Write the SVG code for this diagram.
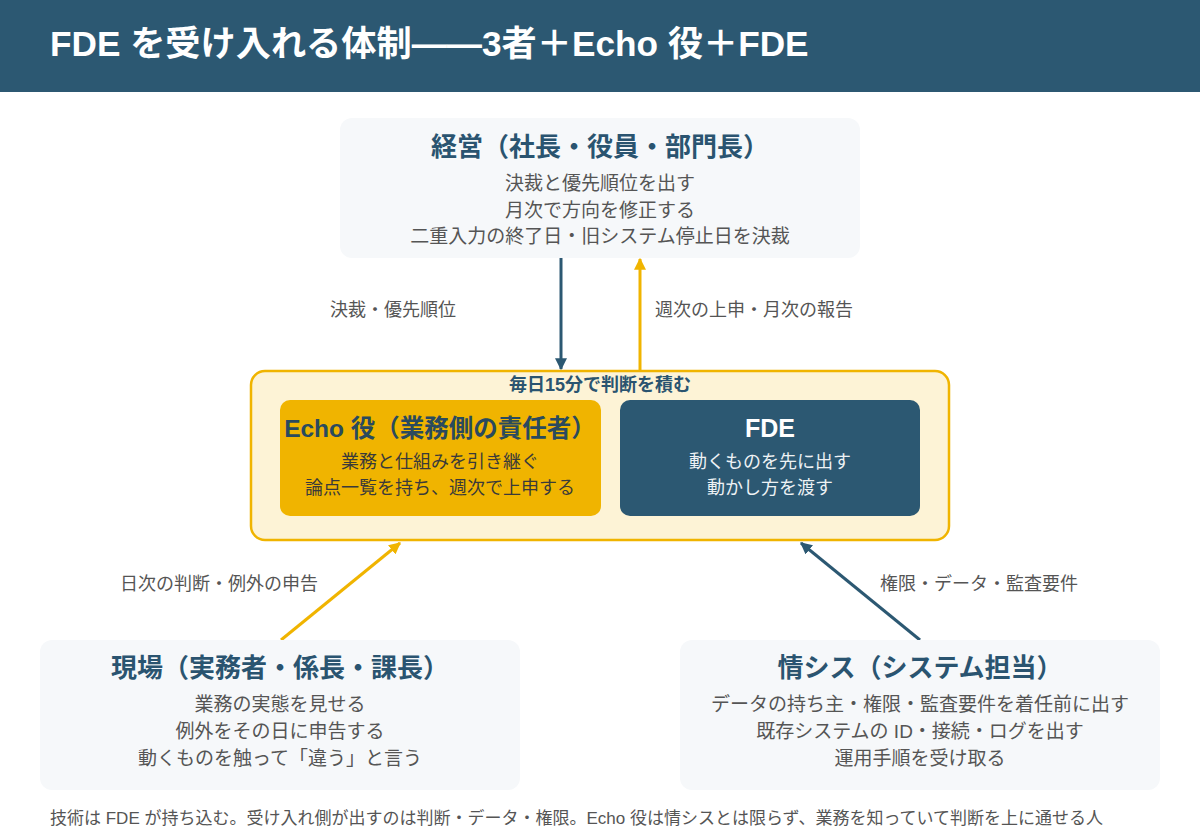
<svg xmlns="http://www.w3.org/2000/svg" width="1200" height="840" viewBox="0 0 1200 840">
<defs>
<style>
text{font-family:"Liberation Sans","Noto Sans CJK JP",sans-serif}
.node{fill:#f6f8fa}
.title{font-size:26px;font-weight:bold;fill:#2a5470;text-anchor:middle}
.line{font-size:19px;fill:#555;text-anchor:middle}
.inner{font-size:18px;text-anchor:middle}
.lbl{font-size:18px;fill:#555;text-anchor:middle}
.blue{stroke:#2c5872;stroke-width:3;fill:none}
.yel{stroke:#f0b400;stroke-width:3;fill:none}
</style>
<marker id="ab" viewBox="0 0 10 10" refX="9" refY="5" markerWidth="4" markerHeight="4" orient="auto" markerUnits="strokeWidth"><path d="M0,0L10,5L0,10z" fill="#2c5872"/></marker>
<marker id="ay" viewBox="0 0 10 10" refX="9" refY="5" markerWidth="4" markerHeight="4" orient="auto" markerUnits="strokeWidth"><path d="M0,0L10,5L0,10z" fill="#f0b400"/></marker>
</defs>
<rect width="1200" height="840" fill="#fff"/>
<rect x="0" y="0" width="1200" height="92" fill="#2c5872"/>
<text x="50" y="56" font-size="35.2" font-weight="bold" fill="#fff">FDE を受け入れる体制——3者＋Echo 役＋FDE</text>

<g id="connectors">
<line class="blue" x1="561" y1="258" x2="561" y2="369" marker-end="url(#ab)"/>
<line class="yel" x1="640" y1="370" x2="640" y2="259" marker-end="url(#ay)"/>
<line class="yel" x1="281" y1="640" x2="400" y2="543" marker-end="url(#ay)"/>
<line class="blue" x1="920" y1="640" x2="801" y2="543" marker-end="url(#ab)"/>
<text class="lbl" x="393" y="316">決裁・優先順位</text>
<text class="lbl" x="754" y="316">週次の上申・月次の報告</text>
<text class="lbl" x="219" y="590">日次の判断・例外の申告</text>
<text class="lbl" x="979" y="590">権限・データ・監査要件</text>
</g>

<g id="keiei">
<rect class="node" x="340" y="118" width="520" height="140" rx="12"/>
<text class="title" x="600" y="156">経営（社長・役員・部門長）</text>
<text class="line" x="600" y="190">決裁と優先順位を出す</text>
<text class="line" x="600" y="216.5">月次で方向を修正する</text>
<text class="line" x="600" y="243">二重入力の終了日・旧システム停止日を決裁</text>
</g>

<g id="daily">
<rect x="251" y="371" width="698" height="169" rx="14" fill="#fdf3d6" stroke="#f0b400" stroke-width="2.5"/>
<text x="600" y="391" font-size="18" font-weight="bold" fill="#2a5470" text-anchor="middle">毎日15分で判断を積む</text>
</g>

<g id="echo">
<rect x="280" y="400" width="321" height="116" rx="10" fill="#f0b400"/>
<text x="440" y="437" font-size="24.5" font-weight="bold" fill="#2a4a5e" text-anchor="middle">Echo 役（業務側の責任者）</text>
<text class="inner" x="440" y="468" fill="#3a3a3a">業務と仕組みを引き継ぐ</text>
<text class="inner" x="440" y="494" fill="#3a3a3a">論点一覧を持ち、週次で上申する</text>
</g>

<g id="fde">
<rect x="620" y="400" width="300" height="116" rx="10" fill="#2c5872"/>
<text x="770" y="437" font-size="25" font-weight="bold" fill="#fff" text-anchor="middle">FDE</text>
<text class="inner" x="770" y="468" fill="#eef2f5">動くものを先に出す</text>
<text class="inner" x="770" y="494" fill="#eef2f5">動かし方を渡す</text>
</g>

<g id="genba">
<rect class="node" x="40" y="640" width="480" height="150" rx="12"/>
<text class="title" x="280" y="677">現場（実務者・係長・課長）</text>
<text class="line" x="280" y="711">業務の実態を見せる</text>
<text class="line" x="280" y="737.5">例外をその日に申告する</text>
<text class="line" x="280" y="764.5">動くものを触って「違う」と言う</text>
</g>

<g id="joshisu">
<rect class="node" x="680" y="640" width="480" height="150" rx="12"/>
<text class="title" x="920" y="677">情シス（システム担当）</text>
<text class="line" x="920" y="711">データの持ち主・権限・監査要件を着任前に出す</text>
<text class="line" x="920" y="737.5">既存システムの ID・接続・ログを出す</text>
<text class="line" x="920" y="764.5">運用手順を受け取る</text>
</g>

<text x="50" y="824" font-size="17" fill="#555">技術は FDE が持ち込む。受け入れ側が出すのは判断・データ・権限。Echo 役は情シスとは限らず、業務を知っていて判断を上に通せる人</text>
</svg>
